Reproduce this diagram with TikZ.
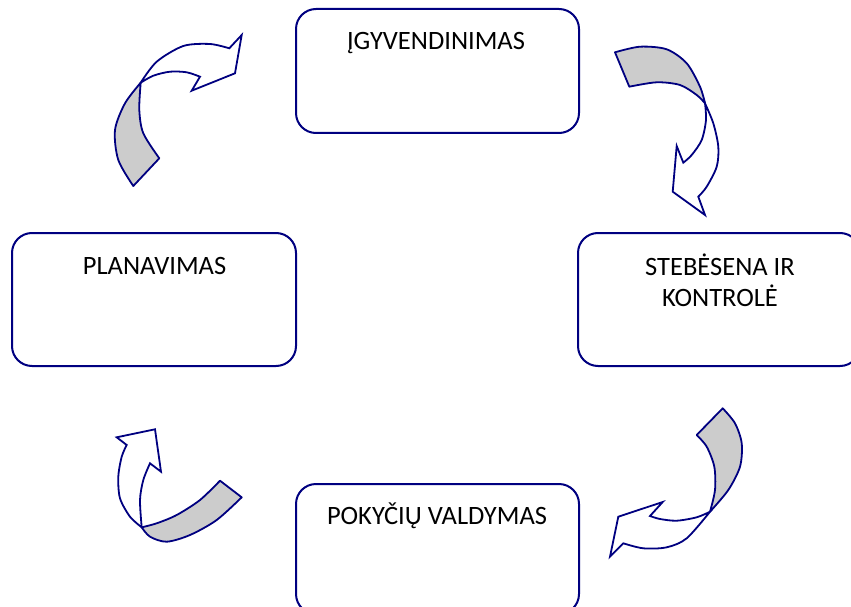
\documentclass[tikz,border=0pt]{standalone}
\usepackage{fontspec}
\setmainfont{Carlito}
\definecolor{navy}{RGB}{0,0,128}
\definecolor{shade}{RGB}{204,204,204}
\begin{document}
\begin{tikzpicture}[x=1pt,y=-1pt,
  box/.style={draw=navy, line width=2pt, rounded corners=20pt, fill=white, inner sep=0pt},
  lbl/.style={font=\fontsize{26.5}{31}\selectfont, inner sep=0pt, anchor=base, text=black},
  back/.style={draw=navy, line width=1.8pt, fill=shade, line join=round},
  front/.style={draw=navy, line width=1.8pt, fill=white, line join=miter}]
\useasboundingbox (0,0) rectangle (851,607);
\fill[white] (0,0) rectangle (851,607);

% boxes
\node[box, minimum width=283pt, minimum height=124pt] (impl) at (437.5,71) {};
\node[box, minimum width=284pt, minimum height=133pt] (plan) at (154,299.5) {};
\node[box, minimum width=282pt, minimum height=133pt] (mon) at (719,299.5) {};
\node[box, minimum width=283pt, minimum height=130pt] (chg) at (437.5,549) {};

% labels
\node[lbl] (implT) at (436,50) {ĮGYVENDINIMAS};
\node[lbl] (planT) at (154.5,274) {PLANAVIMAS};
\node[lbl] (monT1) at (720,275) {STEBĖSENA IR};
\node[lbl] (monT2) at (720,306) {KONTROLĖ};
\node[lbl] (chgT) at (437,524) {POKYČIŲ VALDYMAS};

% arrow 1 (planning -> implementation)
\filldraw[back] plot[smooth] coordinates {(140.7,82.7) (125,103.3) (115,130) (118.3,160) (133.3,186)}
  -- plot[smooth] coordinates {(159.3,158.3) (143.3,133.3) (139.3,110) (140.7,82.7)} -- cycle;
\filldraw[front] plot[smooth] coordinates {(140.7,82.7) (156.7,61.7) (183.3,46) (210,44) (229.3,48.3)}
  -- (241.7,35) -- (235,73.3) -- (191.7,90.7) -- (200,76.7)
  -- plot[smooth] coordinates {(200,76.7) (186.7,72.3) (170,71.7) (153.3,75.7) (140.7,82.7)} -- cycle;

% arrow 2 (implementation -> monitoring)
\filldraw[back] plot[smooth] coordinates {(615,52.3) (640,46.7) (666.7,49.3) (686.7,63.3) (700,86.7) (705,103.3)}
  -- plot[smooth] coordinates {(705,103.3) (696.7,95) (680,85) (656.7,82.3) (629.3,86.7)} -- cycle;
\filldraw[front] plot[smooth] coordinates {(705,103.3) (706,120) (701.7,140) (691.7,155) (683.3,162.7)}
  -- (676.7,146) -- (672.7,191.7) -- (705,215) -- (698.3,196.7)
  -- plot[smooth] coordinates {(698.3,196.7) (706.7,186.7) (716.7,166.7) (718.3,146.7) (713.3,123.3) (705,103.3)} -- cycle;

% arrow 3 (monitoring -> change management)
\filldraw[back] plot[smooth] coordinates {(722.7,408.3) (735,423.3) (741.7,443.3) (740,466.7) (728.3,490) (710,511.7)}
  -- plot[smooth] coordinates {(710,511.7) (715,490) (714.3,466.7) (706.7,446.7) (696.7,435)} -- cycle;
\filldraw[front] plot[smooth] coordinates {(710,511.7) (696.7,517.3) (676.7,520.7) (660,519) (650,516)}
  -- (662.7,502) -- (618.3,516.7) -- (610,556.7) -- (623.3,543.3)
  -- plot[smooth] coordinates {(623.3,543.3) (643.3,548.3) (666.7,547.3) (686.7,538.3) (710,511.7)} -- cycle;

% arrow 4 (change management -> planning)
\filldraw[back] plot[smooth] coordinates {(220,480.7) (200,500) (176.7,515) (156.7,523.3) (141.7,527.3)}
  -- plot[smooth] coordinates {(141.7,527.3) (150,536.7) (166.7,541.7) (190,535) (216.7,520) (241.7,497.3)} -- cycle;
\filldraw[front] plot[smooth] coordinates {(141.7,527.3) (130,516.7) (120,498.3) (118.3,476.7) (121.7,456.7) (126.7,445)}
  -- (116.7,437.3) -- (155,429.3) -- (161,471.7) -- (150,463.3)
  -- plot[smooth] coordinates {(150,463.3) (143.3,480) (140,500) (141.7,527.3)} -- cycle;
\end{tikzpicture}
\end{document}
